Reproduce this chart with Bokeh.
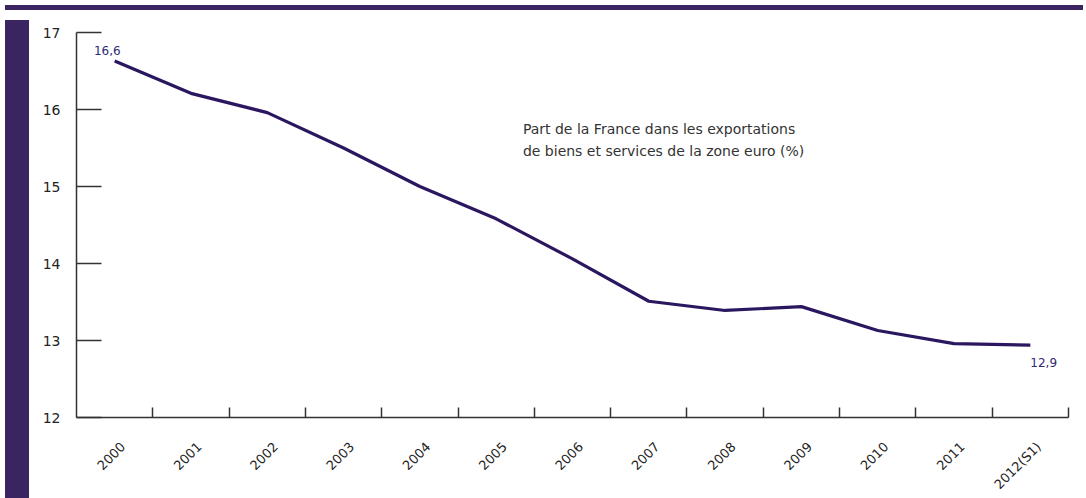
import math
from bokeh.plotting import figure
from bokeh.models import FixedTicker, Range1d, Div
from bokeh.layouts import column, row
from bokeh.embed import file_html
from bokeh.resources import INLINE
from bokeh.core.properties import value

years = ["2000", "2001", "2002", "2003", "2004", "2005", "2006",
         "2007", "2008", "2009", "2010", "2011", "2012(S1)"]
share = [16.63, 16.21, 15.96, 15.50, 15.00, 14.58, 14.06,
         13.51, 13.39, 13.44, 13.13, 12.96, 12.94]
y_ticks = [12, 13, 14, 15, 16, 17]
first_label = "16,6"
last_label = "12,9"
note_lines = ["Part de la France dans les exportations",
              "de biens et services de la zone euro (%)"]

PURPLE = "#3a2462"
LINE = "#2b1760"
FONT = "DejaVu Sans"
TXT = "#222222"

xs = list(range(len(years)))

p = figure(width=1054, height=485, output_backend="svg", toolbar_location=None,
           x_range=Range1d(-0.5, len(years) - 0.5), y_range=Range1d(12, 17),
           min_border_left=42, min_border_top=17, min_border_right=20,
           min_border_bottom=80)
p.outline_line_color = None
p.xgrid.visible = False
p.ygrid.visible = False
p.background_fill_color = "white"
p.border_fill_color = "white"

p.line(xs, share, line_color=LINE, line_width=3.2, line_join="round")

# y axis
ya = p.yaxis[0]
ya.ticker = FixedTicker(ticks=y_ticks)
ya.major_tick_in = 25
ya.major_tick_out = 0
ya.minor_tick_in = 0
ya.minor_tick_out = 0
ya.axis_line_color = "#333333"
ya.axis_line_width = 1.5
ya.major_tick_line_color = "#333333"
ya.major_tick_line_width = 1.5
ya.major_label_text_font = FONT
ya.major_label_text_font_size = "14px"
ya.major_label_text_color = TXT
ya.major_label_standoff = 16

# x axis: labels at categories, tick marks between categories
shift = 0.11
xa = p.xaxis[0]
xa.ticker = FixedTicker(ticks=[i + shift for i in xs],
                        minor_ticks=[i + 0.5 for i in xs])
xa.major_label_overrides = {i + shift: y for i, y in zip(xs, years)}
xa.major_tick_in = 0
xa.major_tick_out = 0
xa.minor_tick_in = 10
xa.minor_tick_out = 0
xa.minor_tick_line_color = "#333333"
xa.minor_tick_line_width = 1.5
xa.axis_line_color = "#333333"
xa.axis_line_width = 1.5
xa.major_label_orientation = math.pi / 4
xa.major_label_text_font = FONT
xa.major_label_text_font_size = "13px"
xa.major_label_text_color = TXT
xa.major_label_standoff = 27

# value labels
p.text([xs[0]], [share[0]], text=[first_label], text_font=value(FONT),
       text_font_size="12px", text_color="#2f2a75",
       text_align="right", text_baseline="bottom", x_offset=6, y_offset=-6)
p.text([xs[-1]], [share[-1]], text=[last_label], text_font=value(FONT),
       text_font_size="12px", text_color="#2f2a75",
       text_align="left", text_baseline="top", x_offset=0, y_offset=13)

# note
p.text([5.35, 5.35], [15.75, 15.46], text=note_lines, text_font=value(FONT),
       text_font_size="14px", text_color="#333333",
       text_align="left", text_baseline="middle")

top_band = Div(width=1078, height=5, styles={"background-color": PURPLE})
left_band = Div(width=24, height=485, styles={"background-color": PURPLE})
layout = column(top_band, row(left_band, p, spacing=0), spacing=0)

open("out.html", "w").write(file_html(layout, INLINE))
